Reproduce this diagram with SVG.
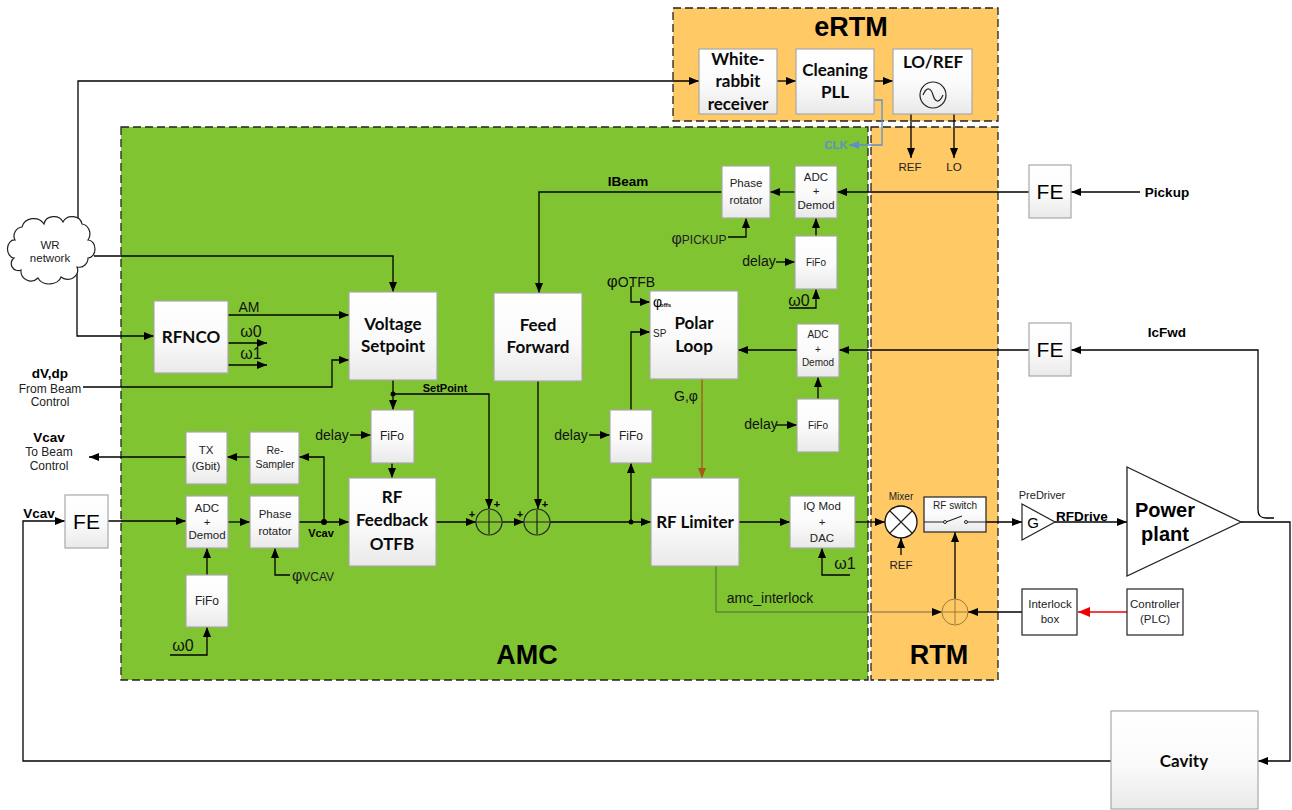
<svg xmlns="http://www.w3.org/2000/svg" width="1292" height="810" viewBox="0 0 1292 810">
<style>
text{font-family:"Liberation Sans",Arial,sans-serif;fill:#000;text-anchor:middle}
.b{fill:url(#g);stroke:#a8a8a8;stroke-width:1.2}
.h{font-family:Lato,"Liberation Sans",sans-serif;font-weight:700;font-size:17px;fill:#0a0a0a}
.s{font-size:11.5px;fill:#222}
.s10{font-size:10px;fill:#222}
.m{font-size:12px;fill:#222}
.l{font-size:14px;fill:#111}
.bl{font-weight:700;font-size:13.5px}
.bs{font-weight:700;font-size:11px}
.t{font-weight:700;font-size:27px}
.w{font-size:16px;fill:#111}
.st{text-anchor:start}
.zone{stroke:#222;stroke-width:1.3;stroke-dasharray:8 4}
.c{fill:none;stroke:#000;stroke-width:1.3}
.a{marker-end:url(#ar)}
.o{fill:none;stroke:#222;stroke-width:1.2}
</style>
<defs>
<linearGradient id="g" x1="0" y1="0" x2="0" y2="1"><stop offset="0" stop-color="#fff"/><stop offset=".55" stop-color="#fafafa"/><stop offset="1" stop-color="#e9e9e9"/></linearGradient>
<marker id="ar" markerUnits="userSpaceOnUse" markerWidth="11" markerHeight="9" refX="10" refY="4" orient="auto"><path d="M0 0L10 4L0 8z" fill="#000"/></marker>
<marker id="arb" markerUnits="userSpaceOnUse" markerWidth="11" markerHeight="9" refX="10" refY="4" orient="auto"><path d="M0 0L10 4L0 8z" fill="#5b8fd0"/></marker>
<marker id="arr" markerUnits="userSpaceOnUse" markerWidth="13" markerHeight="11" refX="12" refY="5" orient="auto"><path d="M0 0L12 5L0 10z" fill="#f00000"/></marker>
<marker id="arn" markerUnits="userSpaceOnUse" markerWidth="11" markerHeight="9" refX="10" refY="4" orient="auto"><path d="M0 0L10 4L0 8z" fill="#a5571c"/></marker>
</defs>
<rect width="1292" height="810" fill="#fff"/>
<g id="zones">
<rect x="673" y="8" width="325" height="113" fill="#ffc966" class="zone"/>
<rect x="121" y="127" width="747" height="553" fill="#80c432" class="zone"/>
<rect x="871" y="127" width="127" height="553" fill="#ffc966" class="zone"/>
<text x="851" y="36" class="t">eRTM</text>
<text x="527" y="664" class="t">AMC</text>
<text x="939" y="664" class="t">RTM</text>
</g>
<g id="connectors">
<path class="c a" d="M78 222V81H699"/>
<path class="c a" d="M94 256H393V292"/>
<path class="c a" d="M77 272V336H154"/>
<path class="c a" d="M228 315H349"/>
<path class="c a" d="M228 343H267"/>
<path class="c a" d="M228 365H267"/>
<path class="c a" d="M83 387H332V360H349"/>
<path class="c a" d="M393 380V410"/>
<path class="c a" d="M393 394H489V509"/>
<path class="c a" d="M392 463V478"/>
<path class="c a" d="M350 435H371"/>
<path class="c a" d="M436 522H476"/>
<path class="c a" d="M502 522H524"/>
<path class="c a" d="M550 522H651"/>
<path class="c a" d="M631 522V463"/>
<path class="c a" d="M631 410V332H650"/>
<path class="c a" d="M538 381V509"/>
<path class="c a" d="M589 435H610"/>
<path class="c a" d="M722 192H539V293"/>
<path class="c a" d="M795 192H770"/>
<path class="c a" d="M1029 192H837"/>
<path class="c a" d="M1140 192H1071"/>
<path class="c a" d="M816 236V218"/>
<path class="c a" d="M789 308H816V289"/>
<path class="c a" d="M776 262H795"/>
<path class="c a" d="M728 237H746V218"/>
<path class="c a" d="M631 286V302H650"/>
<path class="c a" d="M797 350H738"/>
<path class="c a" d="M1029 350H839"/>
<path class="c a" d="M1258 510V350H1071"/>
<path class="c" d="M1258 510Q1258 518 1266 518H1274"/>
<path class="c a" d="M1241 522H1290V761H1258"/>
<path class="c a" d="M1111 761H23V521H65"/>
<path class="c a" d="M108 521H186"/>
<path class="c a" d="M228 522H250"/>
<path class="c a" d="M299 522H349"/>
<path class="c a" d="M324 522V457H299"/>
<path class="c a" d="M250 457H227"/>
<path class="c a" d="M186 457H89"/>
<path class="c a" d="M290 575H275V548"/>
<path class="c a" d="M207 575V548"/>
<path class="c a" d="M170 655H207V627"/>
<path class="c a" d="M818 399V377"/>
<path class="c a" d="M776 425H797"/>
<path d="M702 379V478" fill="none" stroke="#a5571c" stroke-width="1.3" marker-end="url(#arn)"/>
<path class="c a" d="M739 522H790"/>
<path class="c a" d="M855 522H885"/>
<path class="c a" d="M901 555V538"/>
<path class="c a" d="M850 575H822V548"/>
<path d="M716 566V612H942" fill="none" stroke="#3c3c3c" stroke-width="1" stroke-opacity=".7" marker-end="url(#ar)"/>
<path class="c a" d="M955 599V532"/>
<path class="c a" d="M1022 612H968"/>
<path d="M1127 612H1078" fill="none" stroke="#f00000" stroke-width="1.3" marker-end="url(#arr)"/>
<path class="c a" d="M986 522H1022"/>
<path class="c a" d="M1055 522H1127"/>
<path class="c a" d="M777 81H796"/>
<path class="c a" d="M874 81H893"/>
<path d="M874 100H882V145H849" fill="none" stroke="#5b8fd0" stroke-width="1.3" marker-end="url(#arb)"/>
<path class="c a" d="M911 114V158"/>
<path class="c a" d="M954 114V158"/>
<circle cx="393" cy="394" r="2.5"/>
<circle cx="631" cy="522" r="2.5"/>
<circle cx="324" cy="522" r="3"/>
</g>
<g id="wr-network">
<path d="M15 240A9 9 0 0 1 22 227A12 11 0 0 1 44 224A10 9 0 0 1 63 222A10 9 0 0 1 82 224A9 10 0 0 1 88 240A7 9 0 0 1 88 258A9 9 0 0 1 77 267A10 9 0 0 1 61 277A12 9 0 0 1 38 278A10 10 0 0 1 21 270A7 7 0 0 1 14 258A7 9 0 0 1 15 240z" fill="#fff" stroke="#222" stroke-width="1.2"/>
<text x="50" y="249" class="s">WR</text><text x="50" y="262" class="s">network</text>
</g>
<g id="white-rabbit"><rect x="699" y="49" width="78" height="65" class="b"/><text x="738" y="65" class="h">White-</text><text x="738" y="87" class="h">rabbit</text><text x="738" y="110" class="h">receiver</text></g>
<g id="cleaning-pll"><rect x="796" y="49" width="78" height="65" class="b"/><text x="835" y="76" class="h">Cleaning</text><text x="835" y="98" class="h">PLL</text></g>
<g id="lo-ref"><rect x="893" y="49" width="79" height="65" class="b"/><text x="933" y="68" class="h">LO/REF</text><circle cx="933" cy="95" r="13" class="o"/><path class="o" d="M923 95C927 86 931 88 933 95C935 102 939 104 943 95"/></g>
<g id="rfnco"><rect x="154" y="301" width="74" height="72" class="b"/><text x="191" y="343" class="h">RFNCO</text></g>
<g id="voltage-setpoint"><rect x="349" y="292" width="88" height="88" class="b"/><text x="393" y="330" class="h">Voltage</text><text x="393" y="352" class="h">Setpoint</text></g>
<g id="feed-forward"><rect x="494" y="293" width="88" height="88" class="b"/><text x="538" y="331" class="h">Feed</text><text x="538" y="353" class="h">Forward</text></g>
<g id="phase-rotator-pickup"><rect x="722" y="166" width="48" height="52" class="b"/><text x="746" y="187" class="s">Phase</text><text x="746" y="204" class="s">rotator</text></g>
<g id="adc-pickup"><rect x="795" y="166" width="42" height="52" class="b"/><text x="816" y="181" class="s">ADC</text><text x="816" y="195" class="s">+</text><text x="816" y="209" class="s">Demod</text></g>
<g id="fifo-pickup"><rect x="795" y="236" width="42" height="53" class="b"/><text x="816" y="266" class="s10">FiFo</text></g>
<g id="polar-loop"><rect x="650" y="291" width="88" height="88" class="b"/><text x="694" y="329" class="h">Polar</text><text x="694" y="352" class="h">Loop</text><text x="653" y="307" class="st" font-size="14">φ</text><text x="660" y="307" class="st" font-size="6" font-weight="700">offs</text><text x="653" y="337" class="st s10">SP</text></g>
<g id="adc-fwd"><rect x="797" y="324" width="42" height="53" class="b"/><text x="818" y="338" class="s10">ADC</text><text x="818" y="353" class="s10">+</text><text x="818" y="366" class="s10">Demod</text></g>
<g id="fifo-fwd"><rect x="797" y="399" width="42" height="53" class="b"/><text x="818" y="429" class="s10">FiFo</text></g>
<g id="fifo-setpoint"><rect x="371" y="410" width="43" height="53" class="b"/><text x="392" y="440" class="m">FiFo</text></g>
<g id="fifo-sp"><rect x="610" y="410" width="42" height="53" class="b"/><text x="631" y="440" class="m">FiFo</text></g>
<g id="rf-feedback"><rect x="349" y="478" width="87" height="88" class="b"/><text x="392" y="503" class="h">RF</text><text x="392" y="526" class="h">Feedback</text><text x="392" y="550" class="h">OTFB</text></g>
<g id="rf-limiter"><rect x="651" y="478" width="88" height="88" class="b"/><text x="695" y="528" class="h">RF Limiter</text></g>
<g id="iq-mod"><rect x="790" y="496" width="65" height="52" class="b"/><text x="822" y="510" class="s">IQ Mod</text><text x="822" y="526" class="s">+</text><text x="822" y="542" class="s">DAC</text></g>
<g id="tx"><rect x="186" y="432" width="41" height="52" class="b"/><text x="206" y="454" class="s">TX</text><text x="206" y="470" class="s">(Gbit)</text></g>
<g id="re-sampler"><rect x="250" y="432" width="49" height="52" class="b"/><text x="275" y="454" class="s" style="font-size:10.5px">Re-</text><text x="275" y="468" class="s" style="font-size:10.5px">Sampler</text></g>
<g id="adc-vcav"><rect x="186" y="496" width="42" height="52" class="b"/><text x="207" y="512" class="s">ADC</text><text x="207" y="526" class="s">+</text><text x="207" y="539" class="s">Demod</text></g>
<g id="phase-rotator-vcav"><rect x="250" y="496" width="49" height="52" class="b"/><text x="275" y="518" class="s">Phase</text><text x="275" y="535" class="s">rotator</text></g>
<g id="fifo-vcav"><rect x="186" y="575" width="42" height="52" class="b"/><text x="207" y="605" class="m">FiFo</text></g>
<g id="fe-vcav"><rect x="65" y="495" width="43" height="53" class="b"/><text x="86.500" y="529" font-size="21">FE</text></g>
<g id="fe-pickup"><rect x="1029" y="165" width="42" height="53" class="b"/><text x="1050" y="199" font-size="21">FE</text></g>
<g id="fe-fwd"><rect x="1029" y="323" width="42" height="53" class="b"/><text x="1050" y="357" font-size="21">FE</text></g>
<g id="sum1"><circle cx="489" cy="522" r="13" class="o"/><path class="o" d="M477 522H501M489 510V534"/><text x="472" y="518" class="bs">+</text><text x="497" y="508" class="bs">+</text></g>
<g id="sum2"><circle cx="537" cy="522" r="13" class="o"/><path class="o" d="M525 522H549M537 510V534"/><text x="520" y="518" class="bs">+</text><text x="545" y="508" class="bs">+</text></g>
<g id="mixer"><circle cx="901" cy="522" r="16" fill="#fff" stroke="#111" stroke-width="1.3"/><path class="o" d="M890 511L912 533M912 511L890 533"/><text x="901" y="500" class="s10">Mixer</text></g>
<g id="rf-switch"><rect x="924" y="497" width="62" height="35" fill="url(#g)" stroke="#222" stroke-width="1.2"/><text x="955" y="509" class="s10">RF switch</text><path class="o" d="M924 522H945M966 522H986M946 522L962 516" stroke-width="1"/><circle cx="945" cy="522" r="1.500" fill="#fff" stroke="#222"/><circle cx="966" cy="522" r="1.500" fill="#fff" stroke="#222"/></g>
<g id="sum3"><circle cx="955" cy="612" r="13" fill="none" stroke="#9a7c3a" stroke-width="1"/><path d="M943 612H967M955 600V624" stroke="#9a7c3a" stroke-width="1"/></g>
<g id="interlock"><rect x="1022" y="589" width="55" height="46" fill="#fff" stroke="#222" stroke-width="1.2"/><text x="1050" y="608" class="s">Interlock</text><text x="1050" y="623" class="s">box</text></g>
<g id="controller"><rect x="1127" y="589" width="56" height="46" fill="#fff" stroke="#222" stroke-width="1.2"/><text x="1155" y="608" class="s">Controller</text><text x="1155" y="623" class="s">(PLC)</text></g>
<g id="predriver"><path d="M1022 504L1055 522L1022 540z" fill="#fff" stroke="#222" stroke-width="1.2"/><text x="1033" y="528" font-size="15">G</text></g>
<g id="power-plant"><path d="M1127 467L1241 522L1127 576z" fill="#fff" stroke="#222" stroke-width="1.3"/><text x="1165" y="517" font-weight="700" font-size="20">Power</text><text x="1165" y="541" font-weight="700" font-size="20">plant</text></g>
<g id="cavity"><rect x="1111" y="711" width="147" height="98" class="b"/><text x="1184" y="767" class="h">Cavity</text></g>
<g id="labels">
<text x="836" y="149" style="fill:#5b8fd0;font-size:11.5px;font-weight:700">CLK</text>
<text x="910" y="171" class="s">REF</text><text x="954" y="171" class="s">LO</text>
<text x="1167" y="197" class="bl">Pickup</text>
<text x="1167" y="337" class="bl">IcFwd</text>
<text x="628" y="186" class="bl">IBeam</text>
<text x="249" y="312" class="l">AM</text>
<text x="251" y="337" class="w">ω0</text>
<text x="251" y="359" class="w">ω1</text>
<text x="50" y="378" class="bl">dV,dp</text>
<text x="50" y="393" class="m">From Beam</text><text x="50" y="406" class="m">Control</text>
<text x="49" y="442" class="bl">Vcav</text>
<text x="49" y="456" class="m">To Beam</text><text x="49" y="470" class="m">Control</text>
<text x="39" y="518" class="bl">Vcav</text>
<text x="321" y="537" class="bs">Vcav</text>
<text x="445" y="392" class="bs">SetPoint</text>
<text x="332" y="440" class="l">delay</text><text x="571" y="440" class="l">delay</text><text x="759" y="266" class="l">delay</text><text x="761" y="429" class="l">delay</text>
<text x="686" y="401" class="l">G,φ</text>
<text x="699" y="244" class="m"><tspan font-size="16">φ</tspan>PICKUP</text>
<text x="631" y="287" class="l"><tspan font-size="17">φ</tspan>OTFB</text>
<text x="313" y="581" class="m"><tspan font-size="16">φ</tspan>VCAV</text>
<text x="799" y="306" class="w">ω0</text>
<text x="183" y="651" class="w">ω0</text>
<text x="845" y="569" class="w">ω1</text>
<text x="770" y="603" class="l">amc_interlock</text>
<text x="901" y="569" class="s">REF</text>
<text x="1042" y="499" class="s" style="font-size:11px">PreDriver</text>
<text x="1082" y="521" class="bl">RFDrive</text>
</g>
</svg>
